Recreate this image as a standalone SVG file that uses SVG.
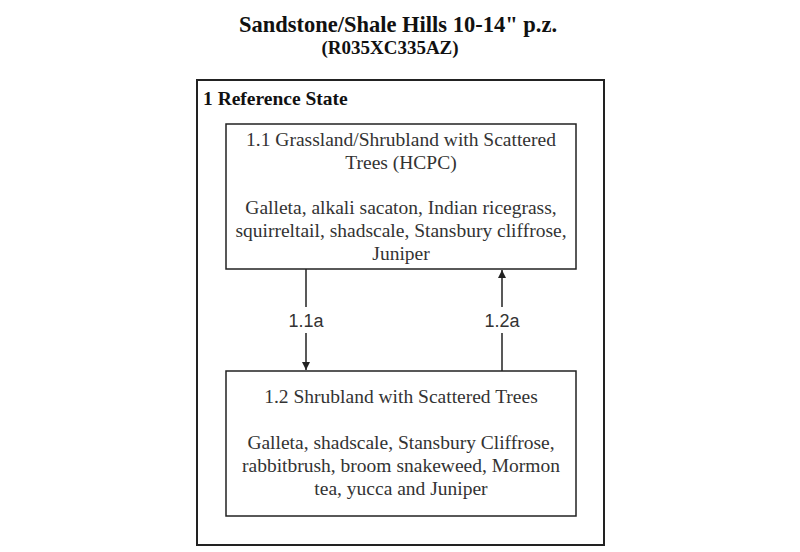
<svg xmlns="http://www.w3.org/2000/svg" width="800" height="552" viewBox="0 0 800 552">
<style>
.title{font-family:"Liberation Serif",serif;font-weight:bold;fill:#111;text-anchor:middle}
.box{fill:#fff;stroke:#222;stroke-width:1.5}
.outer{fill:none;stroke:#222;stroke-width:2}
.t{font-family:"Liberation Serif",serif;font-size:19.5px;fill:#333;text-anchor:middle}
.lbl{font-family:"Liberation Sans",sans-serif;font-size:18px;fill:#333;text-anchor:middle}
.ln{stroke:#222;stroke-width:1.5;fill:none}
</style>
<defs>
<marker id="ah" viewBox="0 0 10 10" refX="10" refY="5" markerWidth="9" markerHeight="8" markerUnits="userSpaceOnUse" orient="auto">
<path d="M0,0 L10,5 L0,10 z" fill="#222"/>
</marker>
</defs>
<rect width="800" height="552" fill="#fff"/>
<text class="title" x="398" y="32" font-size="22.5">Sandstone/Shale Hills 10-14" p.z.</text>
<text class="title" x="390" y="54" font-size="19">(R035XC335AZ)</text>
<g id="state1">
<rect class="outer" x="197" y="80" width="407" height="465"/>
<text x="203" y="105" font-family="Liberation Serif, serif" font-weight="bold" font-size="19.5" fill="#111">1 Reference State</text>
</g>
<g id="node1_1">
<rect class="box" x="226" y="124" width="350" height="145"/>
<text class="t" x="401" y="146">1.1 Grassland/Shrubland with Scattered</text>
<text class="t" x="401" y="169">Trees (HCPC)</text>
<text class="t" x="401" y="214">Galleta, alkali sacaton, Indian ricegrass,</text>
<text class="t" x="401" y="237">squirreltail, shadscale, Stansbury cliffrose,</text>
<text class="t" x="401" y="260">Juniper</text>
</g>
<g id="node1_2">
<rect class="box" x="226" y="371" width="350" height="145"/>
<text class="t" x="401" y="403">1.2 Shrubland with Scattered Trees</text>
<text class="t" x="401" y="449">Galleta, shadscale, Stansbury Cliffrose,</text>
<text class="t" x="401" y="472">rabbitbrush, broom snakeweed, Mormon</text>
<text class="t" x="401" y="495">tea, yucca and Juniper</text>
</g>
<g id="connectors">
<line class="ln" x1="306" y1="269" x2="306" y2="307"/>
<line class="ln" x1="306" y1="333" x2="306" y2="370" marker-end="url(#ah)"/>
<text class="lbl" x="306" y="327">1.1a</text>
<line class="ln" x1="502" y1="371" x2="502" y2="333"/>
<line class="ln" x1="502" y1="307" x2="502" y2="270" marker-end="url(#ah)"/>
<text class="lbl" x="502" y="327">1.2a</text>
</g>
</svg>
